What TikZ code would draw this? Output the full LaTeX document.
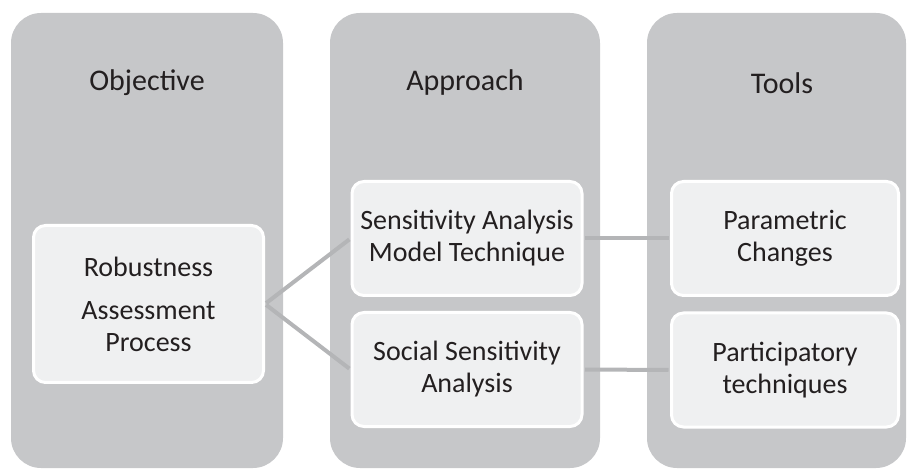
\documentclass[tikz,border=0pt]{standalone}
\usepackage{fontspec}
\setmainfont{Carlito}
\definecolor{colgrey}{HTML}{C6C7C9}
\definecolor{boxgrey}{HTML}{EFF0F1}
\definecolor{linkgrey}{HTML}{B4B5B7}
\definecolor{txt}{HTML}{231F20}
\begin{document}
\begin{tikzpicture}[x=1pt,y=-1pt,
    col/.style={fill=colgrey,rounded corners=30pt},
    titolo/.style={font=\fontsize{30}{34}\selectfont,text=txt},
    riquadro/.style={fill=boxgrey,draw=white,line width=3pt,rounded corners=12pt,
      minimum width=230pt,minimum height=114pt,align=center,text=txt,
      font=\fontsize{28}{32}\selectfont,inner sep=2pt},
    link/.style={draw=linkgrey,line width=4pt,shorten <=1.5pt,shorten >=1.5pt}]
  \useasboundingbox (0,0) rectangle (908,470);
  %colonne
  \fill[col] (11,13) rectangle (283,468);
  \fill[col] (330,13) rectangle (600,468);
  \fill[col] (647,13) rectangle (906,468);
  \node[titolo] (obj) at (147,83) {Objective};
  \node[titolo] (app) at (465,83) {Approach};
  \node[titolo] (tools) at (782,83) {Tools};
  %riquadri
  \node[riquadro,minimum width=230pt,minimum height=157pt] (rob) at (148.5,304) {Robustness\\[11pt]Assessment\\Process};
  \node[riquadro] (sam) at (467,238.5) {Sensitivity Analysis\\Model Technique};
  \node[riquadro] (ssa) at (467,369.5) {Social Sensitivity\\Analysis};
  \node[riquadro,minimum width=227pt] (par) at (785,238.5) {Parametric\\Changes};
  \node[riquadro,minimum width=227pt] (tec) at (785,370) {Participatory\\techniques};
  %collegamenti
  \draw[link] (rob.east) -- (sam.west);
  \draw[link] (rob.east) -- (ssa.west);
  \draw[link] (sam.east) -- (par.west);
  \draw[link] (ssa.east) -- (tec.west);
\end{tikzpicture}
\end{document}
